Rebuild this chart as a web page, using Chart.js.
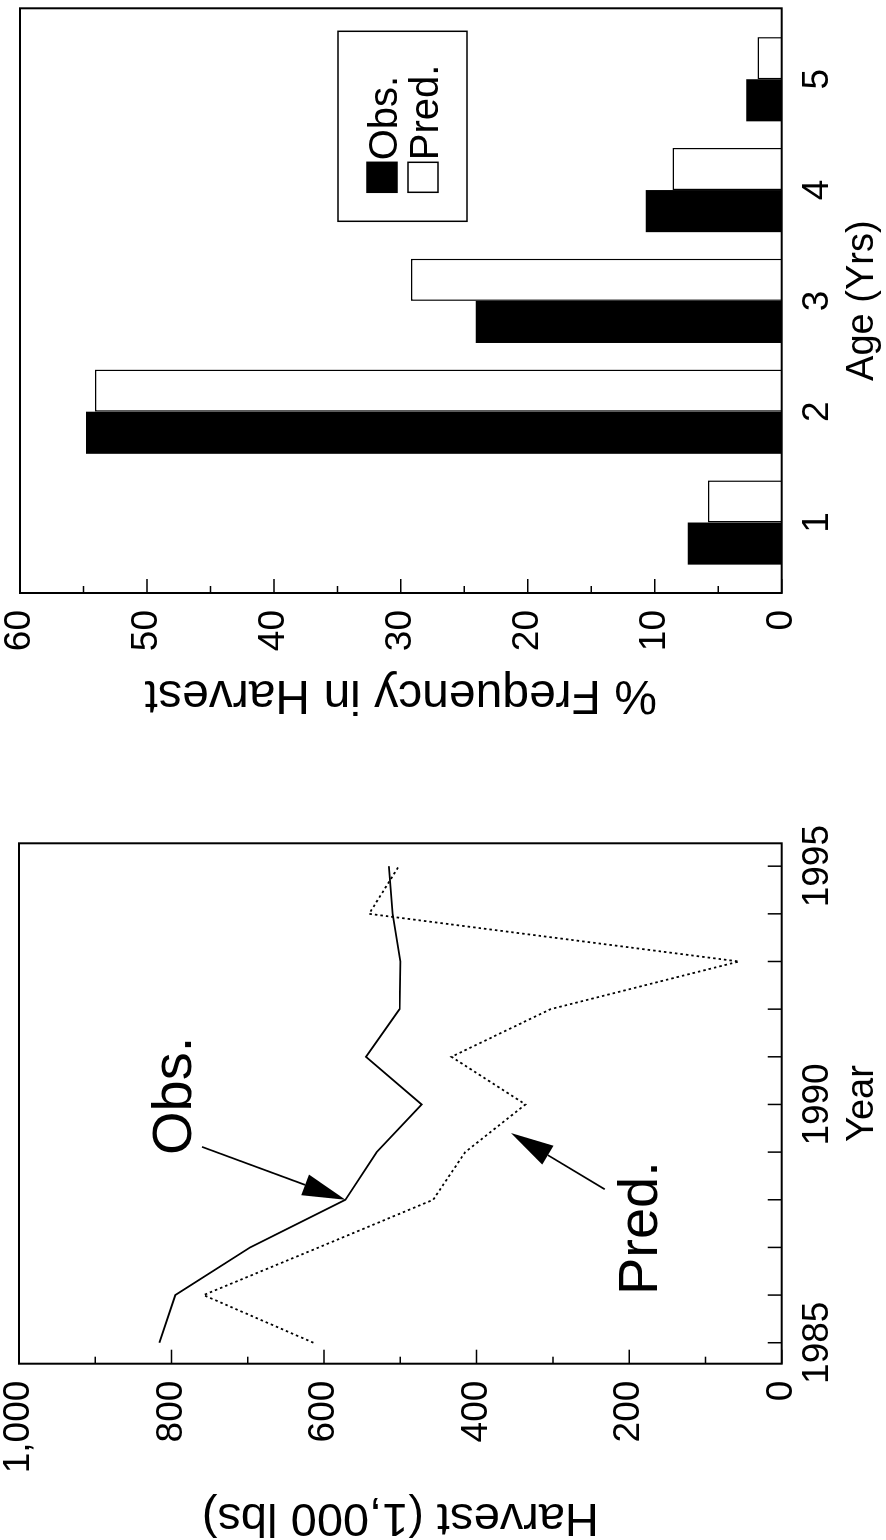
<!DOCTYPE html>
<html>
<head>
<meta charset="utf-8">
<title>Harvest and age composition</title>
<script src="https://cdn.jsdelivr.net/npm/chart.js@4/dist/chart.umd.min.js"></script>
<style>
  html, body { margin: 0; padding: 0; background: #fff; overflow: hidden; }
  /* the figure is laid out landscape, then turned a quarter turn to fit the page */
  #page {
    position: absolute; left: 0; top: 0;
    width: 1540px; height: 886px;
    transform-origin: 0 0;
    transform: translate(0, 1540px) rotate(-90deg);
  }
  #harvestChart { position: absolute; left: 0; top: 0; }
  #ageChart { position: absolute; left: 770px; top: 0; }
</style>
</head>
<body>
<div id="page">
  <canvas id="harvestChart" width="770" height="886"></canvas>
  <canvas id="ageChart" width="770" height="886"></canvas>
</div>
<script>
// --- Harvest by year (1,000 lbs) ---
const years = [1985, 1986, 1987, 1988, 1989, 1990, 1991, 1992, 1993, 1994, 1995];
const obsHarvest = [816, 795, 697, 572, 531, 472, 545, 501, 500, 510, 515];
const predHarvest = [614, 758, 607, 457, 415, 336, 433, 303, 56, 541, 502];
const yearLabels = [1985, 1990, 1995];
const harvestTicks = [0, 100, 200, 300, 400, 500, 600, 700, 800, 900, 1000];
const harvestLabels = [0, 200, 400, 600, 800, 1000];

// --- Age composition of the harvest (%) ---
const ages = [1, 2, 3, 4, 5];
const obsFreq = [7.4, 54.8, 24.1, 10.7, 2.8];
const predFreq = [5.8, 54.1, 29.2, 8.6, 1.9];
const freqTicks = [0, 5, 10, 15, 20, 25, 30, 35, 40, 45, 50, 55, 60];
const freqLabels = [0, 10, 20, 30, 40, 50, 60];

const FONT = "'Liberation Sans', Arial, Helvetica, sans-serif";
Chart.defaults.font.family = FONT;
Chart.defaults.color = '#000';

// box round the plot plus inward tick marks (long where labelled)
function frame(xTicks, xMajor, yTicks, yMajor) {
    return {
        id: 'frame',
        afterDatasetsDraw(chart) {
            const { ctx, chartArea: a, scales } = chart;
            ctx.save();
            ctx.strokeStyle = '#000';
            ctx.lineWidth = 1.5;
            ctx.beginPath();
            xTicks.forEach(v => {
                const px = scales.x.getPixelForValue(v);
                const len = xMajor.includes(v) ? 14 : 7;
                ctx.moveTo(px, a.bottom);
                ctx.lineTo(px, a.bottom - len);
            });
            yTicks.forEach(v => {
                const py = scales.y.getPixelForValue(v);
                const len = yMajor.includes(v) ? 14 : 7;
                ctx.moveTo(a.left, py);
                ctx.lineTo(a.left + len, py);
            });
            ctx.stroke();
            ctx.lineWidth = 2;
            ctx.strokeRect(a.left, a.top, a.right - a.left, a.bottom - a.top);
            ctx.restore();
        }
    };
}

function fixAxis(size, horizontal) {
    return function(s) {
        if (horizontal) s.height = size; else s.width = size;
        s.paddingTop = s.paddingBottom = s.paddingLeft = s.paddingRight = 0;
    };
}

function arrow(ctx, x0, y0, x1, y1) {
    const ang = Math.atan2(y1 - y0, x1 - x0);
    const hl = 43, hw = 11;
    const bx = x1 - hl * Math.cos(ang), by = y1 - hl * Math.sin(ang);
    ctx.beginPath();
    ctx.moveTo(x0, y0);
    ctx.lineTo(bx, by);
    ctx.stroke();
    ctx.beginPath();
    ctx.moveTo(x1, y1);
    ctx.lineTo(bx + hw * Math.sin(ang), by - hw * Math.cos(ang));
    ctx.lineTo(bx - hw * Math.sin(ang), by + hw * Math.cos(ang));
    ctx.closePath();
    ctx.fill();
}

// text labels with arrows, placed in data units (year, harvest)
const notes = [
    { text: 'Obs.', at: [1988.94, 774], from: [1989.11, 760], to: [years[3], obsHarvest[3]] },
    { text: 'Pred.', at: [1986.0, 164], from: [1988.22, 232], to: [1989.40, 355] }
];

const notesPlugin = {
    id: 'notes',
    afterDraw(chart) {
        const { ctx, scales: { x, y } } = chart;
        ctx.save();
        ctx.fillStyle = '#000';
        ctx.strokeStyle = '#000';
        ctx.lineWidth = 1.7;
        ctx.font = '56px ' + FONT;
        ctx.textAlign = 'left';
        ctx.textBaseline = 'alphabetic';
        notes.forEach(n => {
            ctx.fillText(n.text, x.getPixelForValue(n.at[0]), y.getPixelForValue(n.at[1]));
            arrow(ctx,
                x.getPixelForValue(n.from[0]), y.getPixelForValue(n.from[1]),
                x.getPixelForValue(n.to[0]), y.getPixelForValue(n.to[1]));
        });
        ctx.restore();
    }
};

// boxed legend sitting inside the bar plot
const boxLegend = {
    id: 'boxLegend',
    afterDraw(chart) {
        const { ctx, chartArea: a } = chart;
        const w = 190, h = 129;
        const left = a.right - 23 - w, top = a.top + 318;
        ctx.save();
        ctx.strokeStyle = '#000';
        ctx.lineWidth = 1.5;
        ctx.strokeRect(left, top, w, h);
        ctx.font = '40px ' + FONT;
        ctx.textBaseline = 'alphabetic';
        chart.data.datasets.forEach((ds, i) => {
            const sy = top + 29 + i * 41;
            ctx.fillStyle = ds.backgroundColor;
            ctx.fillRect(left + 29, sy, 30, 30);
            ctx.strokeRect(left + 29, sy, 30, 30);
            ctx.fillStyle = '#000';
            ctx.fillText(ds.label, left + 61, sy + 30);
        });
        ctx.restore();
    }
};

const tickFont = { size: 37 };

new Chart(document.getElementById('harvestChart'), {
    type: 'line',
    data: {
        datasets: [
            {
                label: 'Obs.',
                data: years.map((yr, i) => ({ x: yr, y: obsHarvest[i] })),
                borderColor: '#000',
                borderWidth: 1.8,
                pointRadius: 0,
                tension: 0
            },
            {
                label: 'Pred.',
                data: years.map((yr, i) => ({ x: yr, y: predHarvest[i] })),
                borderColor: '#000',
                borderWidth: 1.8,
                borderDash: [2.5, 3],
                pointRadius: 0,
                tension: 0
            }
        ]
    },
    options: {
        responsive: false,
        animation: false,
        events: [],
        layout: { autoPadding: false, padding: { top: 19, right: 73.3, left: 0, bottom: 0 } },
        scales: {
            x: {
                type: 'linear',
                min: 1984.56,
                max: 1995.48,
                afterBuildTicks: s => { s.ticks = years.map(v => ({ value: v })); },
                afterFit: fixAxis(104.3, true),
                grid: { display: false, drawTicks: false },
                border: { display: false },
                ticks: {
                    autoSkip: false,
                    maxRotation: 0,
                    padding: 14,
                    font: tickFont,
                    callback: v => yearLabels.includes(v) ? String(v) : ''
                },
                title: { display: true, text: 'Year', font: { size: 38, lineHeight: 1 }, padding: { top: 0, bottom: 4 } }
            },
            y: {
                min: 0,
                max: 1000,
                afterBuildTicks: s => { s.ticks = harvestTicks.map(v => ({ value: v })); },
                afterFit: fixAxis(176.3, false),
                grid: { display: false, drawTicks: false },
                border: { display: false },
                ticks: {
                    padding: 17,
                    font: tickFont,
                    callback: v => harvestLabels.includes(v) ? v.toLocaleString('en-US') : ''
                },
                title: { display: true, text: 'Harvest (1,000 lbs)', font: { size: 47, lineHeight: 1 }, padding: { top: 0, bottom: 0 } }
            }
        },
        plugins: { legend: { display: false }, tooltip: { enabled: false } }
    },
    plugins: [frame(years, years, harvestTicks, harvestLabels), notesPlugin]
});

new Chart(document.getElementById('ageChart'), {
    type: 'bar',
    data: {
        datasets: [
            {
                label: 'Obs.',
                data: ages.map((a, i) => ({ x: a, y: obsFreq[i] })),
                backgroundColor: '#000',
                borderColor: '#000',
                borderWidth: 0
            },
            {
                label: 'Pred.',
                data: ages.map((a, i) => ({ x: a, y: predFreq[i] })),
                backgroundColor: '#fff',
                borderColor: '#000',
                borderWidth: 1.5
            }
        ]
    },
    options: {
        responsive: false,
        animation: false,
        events: [],
        categoryPercentage: 0.76,
        barPercentage: 1.0,
        layout: { autoPadding: false, padding: { top: 20, right: 8.3, left: 0, bottom: 0 } },
        scales: {
            x: {
                type: 'linear',
                offset: false,
                min: 0.364,
                max: 5.64,
                afterBuildTicks: s => { s.ticks = ages.map(v => ({ value: v })); },
                afterFit: fixAxis(104.3, true),
                grid: { display: false, drawTicks: false, offset: false },
                border: { display: false },
                ticks: { autoSkip: false, maxRotation: 0, padding: 14, font: tickFont, callback: v => String(v) },
                title: { display: true, text: 'Age (Yrs)', font: { size: 38, lineHeight: 1 }, padding: { top: 0, bottom: 4 } }
            },
            y: {
                min: 0,
                max: 60,
                afterBuildTicks: s => { s.ticks = freqTicks.map(v => ({ value: v })); },
                afterFit: fixAxis(177, false),
                grid: { display: false, drawTicks: false },
                border: { display: false },
                ticks: {
                    padding: 17,
                    font: tickFont,
                    callback: v => freqLabels.includes(v) ? String(v) : ''
                },
                title: { display: true, text: '% Frequency in Harvest', font: { size: 48, lineHeight: 1 }, padding: { top: 52, bottom: 0 } }
            }
        },
        plugins: { legend: { display: false }, tooltip: { enabled: false } }
    },
    plugins: [frame([], [], freqTicks, freqLabels), boxLegend]
});
</script>
</body>
</html>
